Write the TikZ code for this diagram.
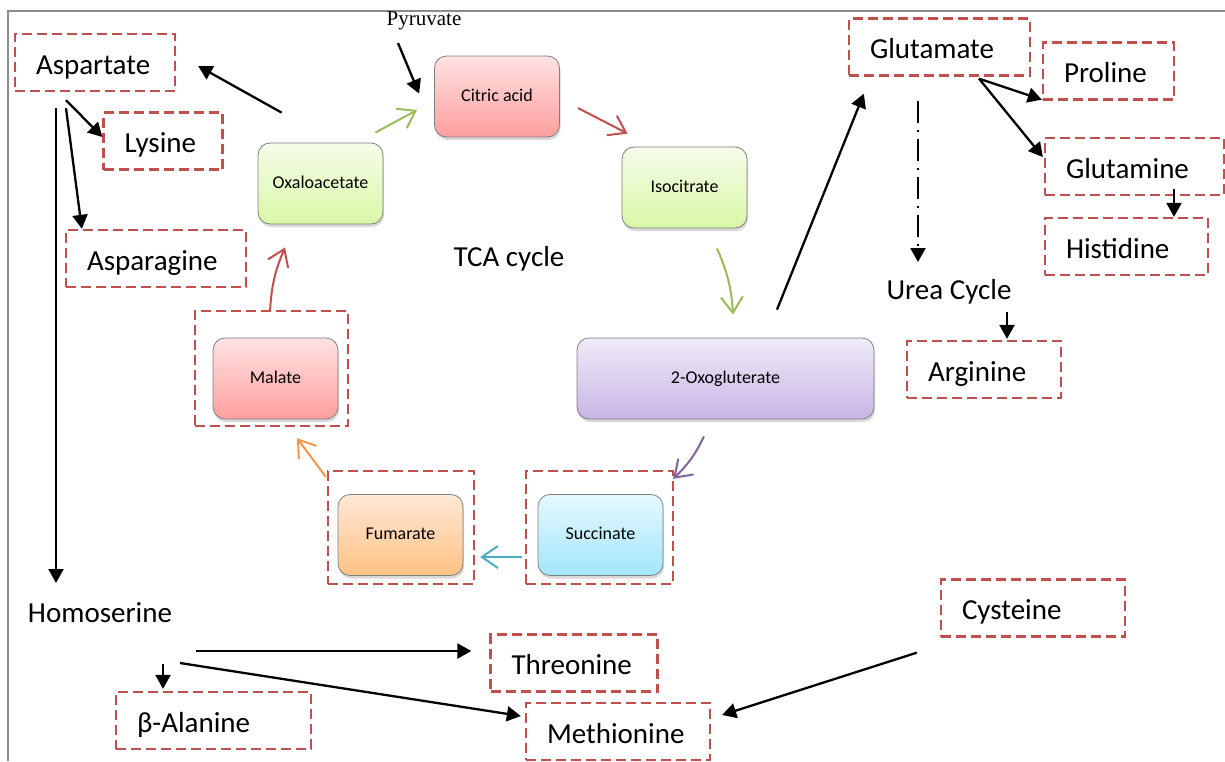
\documentclass[tikz,border=0pt]{standalone}
\usepackage{fontspec}
\setmainfont{Carlito}
\newfontfamily\pyrfont{Liberation Serif}
\usetikzlibrary{arrows.meta,shadows,calc}

\definecolor{aared}{HTML}{C0504D}
\definecolor{framegray}{HTML}{8C8C8C}
\definecolor{boxgray}{HTML}{7F7F7F}
\definecolor{cgreen}{HTML}{9BBB59}
\definecolor{cred}{HTML}{C0504D}
\definecolor{cpurple}{HTML}{8064A2}
\definecolor{cblue}{HTML}{4BACC6}
\definecolor{corange}{HTML}{F79646}
\definecolor{pinkT}{HTML}{FFE2E2}
\definecolor{pinkB}{HTML}{FF9E9E}
\definecolor{greenT}{HTML}{F5FCEA}
\definecolor{greenB}{HTML}{D9F8A6}
\definecolor{orangeT}{HTML}{FFE8D6}
\definecolor{orangeB}{HTML}{FFC184}
\definecolor{blueT}{HTML}{E4F8FF}
\definecolor{blueB}{HTML}{A4E6FA}
\definecolor{purpleT}{HTML}{F0EBF8}
\definecolor{purpleB}{HTML}{C7B5E5}

\begin{document}
\begin{tikzpicture}
  [x=1pt,y=-1pt,
   every node/.style={font=\fontsize{29}{34}\selectfont},
   tcabox/.style={rounded corners=12pt,draw=boxgray,line width=0.8pt,
     minimum width=125pt,minimum height=81pt,font=\fontsize{18}{22}\selectfont,
     text height=12pt,text depth=3pt,
     drop shadow={shadow xshift=1pt,shadow yshift=-3pt,opacity=.3}},
   pinkfill/.style={top color=pinkT,bottom color=pinkB},
   greenfill/.style={top color=greenT,bottom color=greenB},
   orangefill/.style={top color=orangeT,bottom color=orangeB},
   bluefill/.style={top color=blueT,bottom color=blueB},
   purplefill/.style={top color=purpleT,bottom color=purpleB},
   aaframe/.style={draw=aared,line width=2.3pt,dash pattern=on 10pt off 5pt},
   aabox/.style={aaframe,text width=#1,align=left,inner xsep=21pt,
     inner ysep=0pt,minimum height=57pt,text height=24pt,text depth=1pt},
   cyc/.style={line width=2pt,-{Straight Barb[length=16pt,width=22pt]}},
   blk/.style={line width=2.3pt,-{Triangle[length=14pt,width=15pt]}},
   blkpath/.style={every edge/.style={draw,blk}}]

  \useasboundingbox (0,0) rectangle (1225,761);
  \draw[framegray,line width=1.5pt] (8,761) -- (8,11) -- (1225,11);

  % TCA cycle
  \node[tcabox,pinkfill] (cit) at (497,96.5) {Citric acid};
  \node[tcabox,greenfill] (iso) at (684.5,187.5) {Isocitrate};
  \node[tcabox,greenfill] (oxa) at (320.5,183.5) {Oxaloacetate};
  \node[tcabox,pinkfill] (mal) at (275.5,378.5) {Malate};
  \node[tcabox,orangefill] (fum) at (400.5,535) {Fumarate};
  \node[tcabox,bluefill] (suc) at (600.5,535) {Succinate};
  \node[tcabox,purplefill,minimum width=297pt] (oxo) at (725.5,378.5) {2-Oxogluterate};

  \node[aaframe,minimum width=153pt,minimum height=115pt] (malbox) at (271.5,368.5) {};
  \node[aaframe,minimum width=146pt,minimum height=113pt] (fumbox) at (401,527.5) {};
  \node[aaframe,minimum width=147pt,minimum height=113pt] (sucbox) at (599.5,527.5) {};

  \node (tca) at (509,259) {TCA cycle};
  \node[font=\pyrfont\fontsize{21}{24}\selectfont] (pyr) at (424,21) {Pyruvate};

  % amino acids
  \node[aabox=118pt] (asp) at (95,62.5) {Aspartate};
  \node[aabox=77pt] (lys) at (163,141) {Lysine};
  \node[aabox=138pt] (asn) at (156,258.5) {Asparagine};
  \node[aabox=139pt] (glu) at (939.5,47) {Glutamate};
  \node[aabox=89pt] (pro) at (1108.5,71) {Proline};
  \node[aabox=137pt] (gln) at (1134.5,166.5) {Glutamine};
  \node[aabox=121pt] (his) at (1126.5,246.5) {Histidine};
  \node[aabox=112pt] (arg) at (984,369.5) {Arginine};
  \node[aabox=125pt] (thr) at (574,663) {Threonine};
  \node[aabox=142pt] (met) at (618,731.5) {Methionine};
  \node[aabox=142pt] (cys) at (1033,608) {Cysteine};
  \node[aabox=153pt] (bal) at (213.5,720.5) {β-Alanine};

  \node[inner sep=0pt] (urea) at (949,292) {Urea Cycle};
  \node[inner sep=0pt] (hom) at (100,613) {Homoserine};

  % cycle arrows
  \draw[cyc,cgreen] ($(oxa.north east)+(-8,-10)$) -- ($(cit.west)+(-17,13.5)$);
  \draw[cyc,cred] ($(cit.east)+(18,11.5)$) -- ($(iso.north west)+(6,-13)$);
  \draw[cyc,cgreen] ($(iso.south)+(32.5,20)$) to[bend left=10] ($(oxo.north)+(7.5,-23)$);
  \draw[cyc,cpurple] ($(oxo.south)+(-21.5,17)$) to[bend left=10] ($(sucbox.north east)+(-1,9)$);
  \draw[cyc,cblue] ($(sucbox.west)+(-3,29.5)$) -- ($(fumbox.east)+(5,29.5)$);
  \draw[cyc,corange] ($(fumbox.north west)+(-1,7)$) -- ($(malbox.south)+(25.5,11)$);
  \draw[cyc,cred] ($(malbox.north)+(-1.5,2)$) to[bend left=10] ($(oxa.south)+(-35.5,23)$);

  % black arrows
  \path[blkpath]
        ($(pyr)+(-26,22)$) edge ($(cit.north west)+(-15,38)$)
        ($(oxa.north west)+(24,-30)$) edge ($(asp.east)+(22,3.5)$)
        ($(asp.south)+(-29,8)$) edge ($(lys.west)+(0,-4)$)
        ($(asp.south)+(-29,16)$) edge ($(asn.north west)+(17,0)$)
        ($(asp.south)+(-39,16)$) edge ($(hom)+(-44,-30)$)
        ($(hom)+(96,38)$) edge ($(thr.west)+(-18,-12)$)
        ($(hom)+(80,50)$) edge ($(met.west)+(-4,-15.5)$)
        ($(hom)+(63,51)$) edge ($(bal.north)+(-50.5,-2)$)
        ($(cys.south west)+(-23,15)$) edge ($(met.east)+(11,-16.5)$)
        ($(oxo.north)+(51.5,-28)$) edge ($(glu.south west)+(16,17)$)
        ($(glu.south)+(39.5,2)$) edge ($(pro.south west)+(0,-1)$)
        ($(glu.south)+(39.5,2)$) edge ($(gln.west)+(-1,-9.5)$)
        ($(gln.south)+(39.5,-7)$) edge ($(his.north)+(47.5,0)$)
        ($(urea)+(58,20)$) edge ($(arg.north)+(23,-1)$);
  \draw[blk,dash pattern=on 22pt off 7pt on 2pt off 7pt]
        ($(glu.south)+(-21.5,24)$) -- ($(urea)+(-31,-30)$);
\end{tikzpicture}
\end{document}
